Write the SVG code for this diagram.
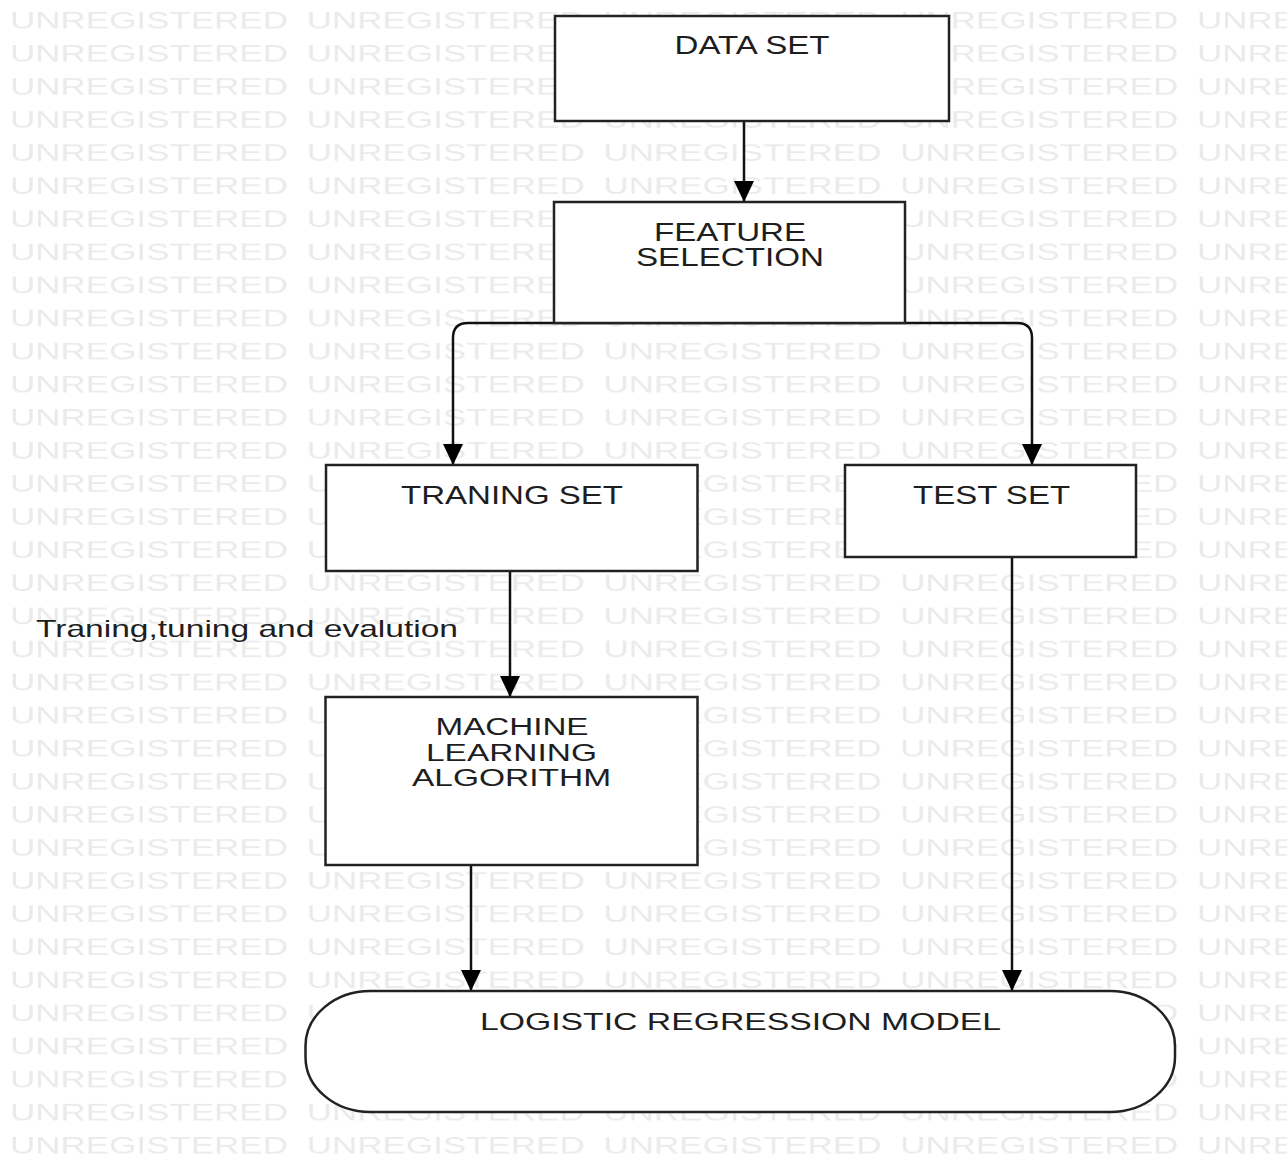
<svg xmlns="http://www.w3.org/2000/svg" width="1287" height="1162" viewBox="0 0 1287 1162">
<style>
.box{fill:#fff;stroke:#222;stroke-width:2.5}
.lbl{font-family:"Liberation Sans",Arial,sans-serif;font-size:25px;fill:#1e1e1e;text-anchor:middle}
.ml{font-size:24px}
.edge{fill:none;stroke:#111;stroke-width:2.5}
.wm{font-family:"Liberation Sans",Arial,sans-serif;font-size:23.5px;fill:#eaeaea}
</style>
<defs>
<pattern id="wmPat" patternUnits="userSpaceOnUse" x="10" y="10" width="296.75" height="33.09">
<text class="wm" transform="translate(0,18.5) scale(1.5,1)" x="0" y="0" textLength="185.3" lengthAdjust="spacingAndGlyphs">UNREGISTERED</text>
</pattern>
<marker id="arr" markerUnits="userSpaceOnUse" viewBox="-1 -11 23 22" refX="21" refY="0" markerWidth="23" markerHeight="22" orient="auto">
<path d="M0,-10 L21,0 L0,10 Z" fill="#000"/>
</marker>
</defs>
<rect width="1287" height="1162" fill="#fff"/>
<rect id="watermark" width="1287" height="1162" fill="url(#wmPat)"/>

<g id="connectors">
<path class="edge" d="M744,122 V202" marker-end="url(#arr)"/>
<path class="edge" d="M730,323 H468 Q453,323 453,338 V465" marker-end="url(#arr)"/>
<path class="edge" d="M730,323 H1017 Q1032,323 1032,338 V465" marker-end="url(#arr)"/>
<path class="edge" d="M510,571 V697" marker-end="url(#arr)"/>
<path class="edge" d="M471,865 V991" marker-end="url(#arr)"/>
<path class="edge" d="M1012,557 V991" marker-end="url(#arr)"/>
</g>

<g id="data-set">
<rect class="box" x="555" y="16" width="394" height="105"/>
<text class="lbl" transform="translate(752,53.5) scale(1.28,1)" textLength="121.1" lengthAdjust="spacingAndGlyphs">DATA SET</text>
</g>
<g id="feature-selection">
<rect class="box" x="554" y="202" width="351" height="121"/>
<text class="lbl" transform="translate(730,240.5) scale(1.28,1)" textLength="118.75" lengthAdjust="spacingAndGlyphs">FEATURE</text>
<text class="lbl" transform="translate(730,266) scale(1.28,1)" textLength="146.9" lengthAdjust="spacingAndGlyphs">SELECTION</text>
</g>
<g id="training-set">
<rect class="box" x="326" y="465" width="371.5" height="106"/>
<text class="lbl" transform="translate(512,503.5) scale(1.28,1)" textLength="173.4" lengthAdjust="spacingAndGlyphs">TRANING SET</text>
</g>
<g id="test-set">
<rect class="box" x="845" y="465" width="291" height="92"/>
<text class="lbl" transform="translate(991.5,503.5) scale(1.28,1)" textLength="122.7" lengthAdjust="spacingAndGlyphs">TEST SET</text>
</g>
<g id="edge-label">
<text class="lbl" transform="translate(36,637) scale(1.25,1)" style="text-anchor:start;font-size:24px" textLength="337.6" lengthAdjust="spacingAndGlyphs">Traning,tuning and evalution</text>
</g>
<g id="ml-algorithm">
<rect class="box" x="325.5" y="697" width="372" height="168"/>
<text class="lbl ml" transform="translate(512,735) scale(1.3,1)" textLength="117.7" lengthAdjust="spacingAndGlyphs">MACHINE</text>
<text class="lbl ml" transform="translate(511.5,760.5) scale(1.3,1)" textLength="131.5" lengthAdjust="spacingAndGlyphs">LEARNING</text>
<text class="lbl ml" transform="translate(511.5,786) scale(1.3,1)" textLength="153.1" lengthAdjust="spacingAndGlyphs">ALGORITHM</text>
</g>
<g id="logistic-regression-model">
<rect class="box" x="305.5" y="991" width="869.5" height="121" rx="65" ry="55"/>
<text class="lbl" transform="translate(740.5,1029.5) scale(1.45,1)" style="font-size:23px" textLength="359.3" lengthAdjust="spacingAndGlyphs">LOGISTIC REGRESSION MODEL</text>
</g>
</svg>
